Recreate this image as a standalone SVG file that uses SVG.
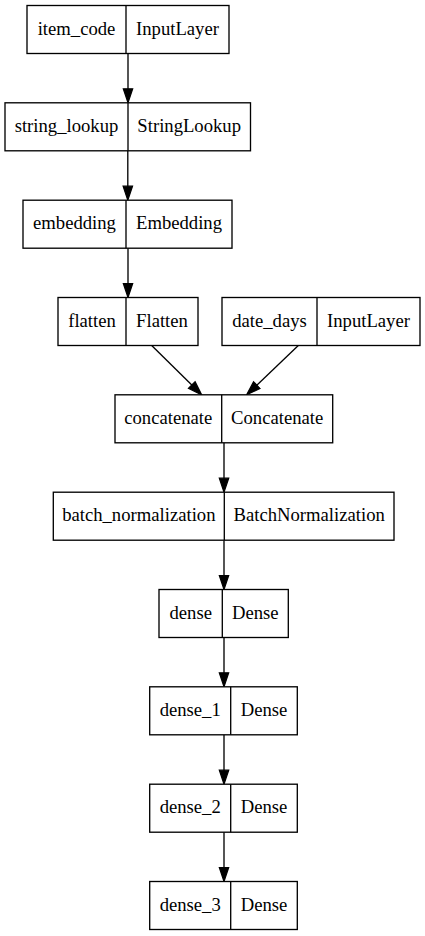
<svg xmlns="http://www.w3.org/2000/svg" width="425" height="936" viewBox="0 0 425 936">
<style>
.box{fill:#fff;stroke:#000;stroke-width:1.33}
.div{stroke:#000;stroke-width:1.33}
text{font-family:"Liberation Serif","Times New Roman",serif;font-size:18.67px;text-anchor:middle;fill:#000}
.edge{stroke:#000;stroke-width:1.33;fill:none;marker-end:url(#ah)}
</style>
<defs>
<marker id="ah" markerUnits="userSpaceOnUse" markerWidth="16" markerHeight="12" refX="4" refY="5.5" orient="auto" viewBox="-1 0 16 11">
<path d="M0,0.8 L14,5.5 L0,10.2 z" fill="#000" stroke="#000" stroke-width="1.2"/>
</marker>
</defs>
<rect width="425" height="936" fill="#fff"/>
<g id="edges">
<line class="edge" x1="128" y1="53.5" x2="128" y2="92.8"/>
<line class="edge" x1="127.8" y1="150.8" x2="127.8" y2="190.2"/>
<line class="edge" x1="128" y1="248.2" x2="128" y2="287.5"/>
<line class="edge" x1="151.7" y1="345.5" x2="194.6" y2="387.8"/>
<line class="edge" x1="298.3" y1="345.5" x2="253.9" y2="387.9"/>
<line class="edge" x1="224" y1="442.8" x2="224" y2="482.2"/>
<line class="edge" x1="224" y1="540.2" x2="224" y2="579.5"/>
<line class="edge" x1="224" y1="637.5" x2="224" y2="676.8"/>
<line class="edge" x1="224" y1="734.8" x2="224" y2="774.2"/>
<line class="edge" x1="224" y1="832.2" x2="224" y2="871.5"/>
</g>
<g id="item_code">
<rect class="box" x="27" y="5.5" width="202" height="48"/>
<line class="div" x1="126" y1="5.5" x2="126" y2="53.5"/>
<text x="76.5" y="34.5">item_code</text>
<text x="177.5" y="34.5">InputLayer</text>
</g>
<g id="string_lookup">
<rect class="box" x="5" y="102.8" width="245.5" height="48"/>
<line class="div" x1="128" y1="102.8" x2="128" y2="150.8"/>
<text x="66.5" y="131.8">string_lookup</text>
<text x="189.2" y="131.8">StringLookup</text>
</g>
<g id="embedding">
<rect class="box" x="23" y="200.2" width="209" height="48"/>
<line class="div" x1="126" y1="200.2" x2="126" y2="248.2"/>
<text x="74.5" y="229.2">embedding</text>
<text x="179" y="229.2">Embedding</text>
</g>
<g id="flatten">
<rect class="box" x="58" y="297.5" width="140" height="48"/>
<line class="div" x1="126" y1="297.5" x2="126" y2="345.5"/>
<text x="92" y="326.5">flatten</text>
<text x="162" y="326.5">Flatten</text>
</g>
<g id="date_days">
<rect class="box" x="222" y="297.5" width="198" height="48"/>
<line class="div" x1="317" y1="297.5" x2="317" y2="345.5"/>
<text x="269.5" y="326.5">date_days</text>
<text x="368.5" y="326.5">InputLayer</text>
</g>
<g id="concatenate">
<rect class="box" x="115" y="394.8" width="217.7" height="48"/>
<line class="div" x1="221.7" y1="394.8" x2="221.7" y2="442.8"/>
<text x="168.3" y="423.8">concatenate</text>
<text x="277.2" y="423.8">Concatenate</text>
</g>
<g id="batch_normalization">
<rect class="box" x="53.3" y="492.2" width="340.7" height="48"/>
<line class="div" x1="224.3" y1="492.2" x2="224.3" y2="540.2"/>
<text x="138.8" y="521.2">batch_normalization</text>
<text x="309.2" y="521.2">BatchNormalization</text>
</g>
<g id="dense">
<rect class="box" x="159" y="589.5" width="129.3" height="48"/>
<line class="div" x1="222.3" y1="589.5" x2="222.3" y2="637.5"/>
<text x="190.7" y="618.5">dense</text>
<text x="255.3" y="618.5">Dense</text>
</g>
<g id="dense_1">
<rect class="box" x="149.7" y="686.8" width="147.6" height="48"/>
<line class="div" x1="230.7" y1="686.8" x2="230.7" y2="734.8"/>
<text x="190.2" y="715.8">dense_1</text>
<text x="264" y="715.8">Dense</text>
</g>
<g id="dense_2">
<rect class="box" x="149.7" y="784.2" width="147.6" height="48"/>
<line class="div" x1="230.7" y1="784.2" x2="230.7" y2="832.2"/>
<text x="190.2" y="813.2">dense_2</text>
<text x="264" y="813.2">Dense</text>
</g>
<g id="dense_3">
<rect class="box" x="149.7" y="881.5" width="147.6" height="48"/>
<line class="div" x1="230.7" y1="881.5" x2="230.7" y2="929.5"/>
<text x="190.2" y="910.5">dense_3</text>
<text x="264" y="910.5">Dense</text>
</g>
</svg>
